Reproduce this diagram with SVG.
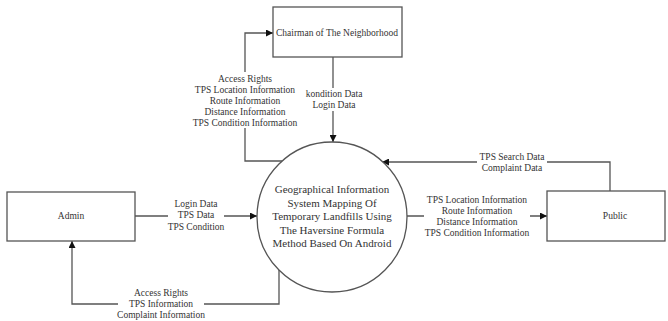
<svg xmlns="http://www.w3.org/2000/svg" width="668" height="321" viewBox="0 0 668 321">
<defs>
<style>
.box{fill:#fff;stroke:#555;stroke-width:1.3}
.ln{fill:none;stroke:#555;stroke-width:1.3}
.t{font-family:"Liberation Serif","Times New Roman",serif;font-size:9.5px;fill:#333;text-anchor:middle}
.c{font-family:"Liberation Serif","Times New Roman",serif;font-size:11px;fill:#333;text-anchor:middle}
.bg{fill:#fff}
</style>
<marker id="ah" viewBox="0 0 10 10" refX="10" refY="5" markerWidth="7" markerHeight="7" orient="auto" markerUnits="userSpaceOnUse">
<path d="M0,0 L10,5 L0,10 z" fill="#111"/>
</marker>
</defs>
<rect width="668" height="321" fill="#fff"/>
<g id="connectors">
<path class="ln" d="M282,161 L245,161 L245,33 L273,33" marker-end="url(#ah)"/>
<path class="ln" d="M333,57 L333,142" marker-end="url(#ah)"/>
<path class="ln" d="M610,191 L610,162 L382,162" marker-end="url(#ah)"/>
<path class="ln" d="M407,216 L547,216" marker-end="url(#ah)"/>
<path class="ln" d="M135,216 L257,216" marker-end="url(#ah)"/>
<path class="ln" d="M279,270 L279,304 L72,304 L72,241" marker-end="url(#ah)"/>
<g id="labels">
<rect class="bg" x="175" y="72" width="140" height="56"/>
<text class="t" x="245" y="82">Access Rights</text>
<text class="t" x="245" y="93">TPS Location Information</text>
<text class="t" x="245" y="104">Route Information</text>
<text class="t" x="245" y="115">Distance Information</text>
<text class="t" x="245" y="126">TPS Condition Information</text>
<rect class="bg" x="303" y="88" width="60" height="23"/>
<text class="t" x="334" y="97">kondition Data</text>
<text class="t" x="334" y="108">Login Data</text>
<rect class="bg" x="477" y="151" width="70" height="23"/>
<text class="t" x="512" y="160">TPS Search Data</text>
<text class="t" x="512" y="171">Complaint Data</text>
<rect class="bg" x="424" y="194" width="106" height="45"/>
<text class="t" x="477" y="203">TPS Location Information</text>
<text class="t" x="477" y="214">Route Information</text>
<text class="t" x="477" y="225">Distance Information</text>
<text class="t" x="477" y="236">TPS Condition Information</text>
<rect class="bg" x="168" y="198" width="56" height="34"/>
<text class="t" x="196" y="207">Login Data</text>
<text class="t" x="196" y="218">TPS Data</text>
<text class="t" x="196" y="230">TPS Condition</text>
<rect class="bg" x="118" y="287" width="86" height="34"/>
<text class="t" x="161" y="296">Access Rights</text>
<text class="t" x="161" y="307">TPS Information</text>
<text class="t" x="161" y="318">Complaint Information</text>
</g>
</g>
<g id="chairman">
<rect class="box" x="273" y="7" width="129" height="50"/>
<text class="t" x="337" y="36">Chairman of The Neighborhood</text>
</g>
<g id="admin">
<rect class="box" x="7" y="192" width="128" height="49"/>
<text class="t" x="71" y="219">Admin</text>
</g>
<g id="public">
<rect class="box" x="547" y="191" width="118" height="50"/>
<text class="t" x="615" y="219">Public</text>
</g>
<g id="system">
<circle class="box" cx="332" cy="217" r="75"/>
<text class="c" x="332" y="193">Geographical Information</text>
<text class="c" x="332" y="207">System Mapping Of</text>
<text class="c" x="332" y="220">Temporary Landfills Using</text>
<text class="c" x="332" y="234">The Haversine Formula</text>
<text class="c" x="332" y="247">Method Based On Android</text>
</g>
</svg>
